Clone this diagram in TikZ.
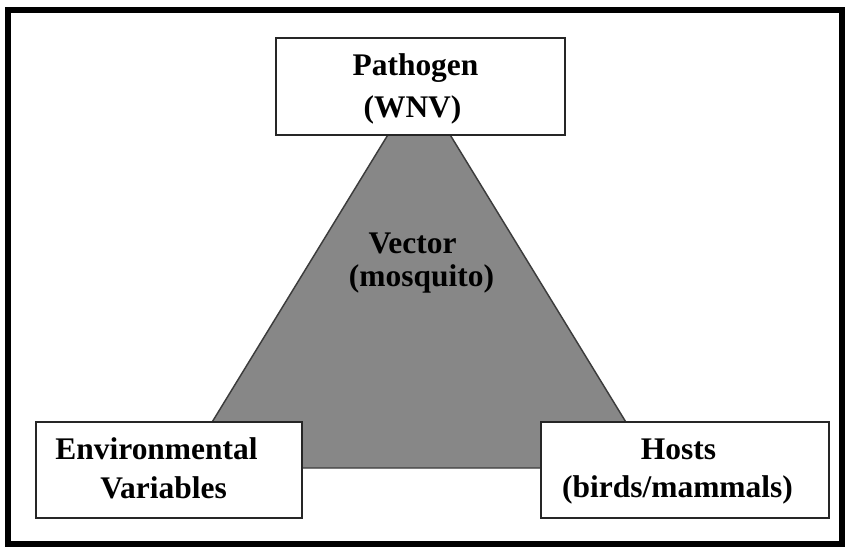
\documentclass[tikz,border=0pt]{standalone}
\usepackage{fontspec}
\setmainfont{Liberation Serif}
\definecolor{vectorGray}{HTML}{878787}
\definecolor{edgeGray}{HTML}{3C3C3C}
\tikzset{
  factorbox/.style={draw=black!85, line width=1.5pt, fill=white, inner sep=0pt},
  factortext/.style={font=\bfseries\fontsize{23.6pt}{28pt}\selectfont, inner sep=0pt, anchor=base}
}

\begin{document}
\begin{tikzpicture}[x=0.75pt, y=-0.75pt]
    \useasboundingbox (0,0) rectangle (848,546);
    \draw[line width=4.5pt] (7.5,9.5) rectangle (842,543.5);
    % vector triangle
    \filldraw[fill=vectorGray, draw=edgeGray, line width=1.1pt] (419,84) -- (184,468) -- (654,468) -- cycle;
    \node[factortext] (vecA) at (412.5,253) {Vector};
    \node[factortext] (vecB) at (421.5,286) {(mosquito)};
    % the three boxes
    \node[factorbox, minimum width=216.75pt, minimum height=72.75pt] (pathogen) at (420.5,86.5) {};
    \node[factorbox, minimum width=199.5pt, minimum height=72pt] (environ) at (169,470) {};
    \node[factorbox, minimum width=216pt, minimum height=72pt] (hosts) at (685,470) {};
    \node[factortext] (pathA) at (415.5,75) {Pathogen};
    \node[factortext] (pathB) at (412.5,117) {(WNV)};
    \node[factortext] (envA) at (156.5,459) {Environmental};
    \node[factortext] (envB) at (163.5,498) {Variables};
    \node[factortext] (hostA) at (678.5,459) {Hosts};
    \node[factortext] (hostB) at (677.5,497) {(birds/mammals)};
\end{tikzpicture}
\end{document}
